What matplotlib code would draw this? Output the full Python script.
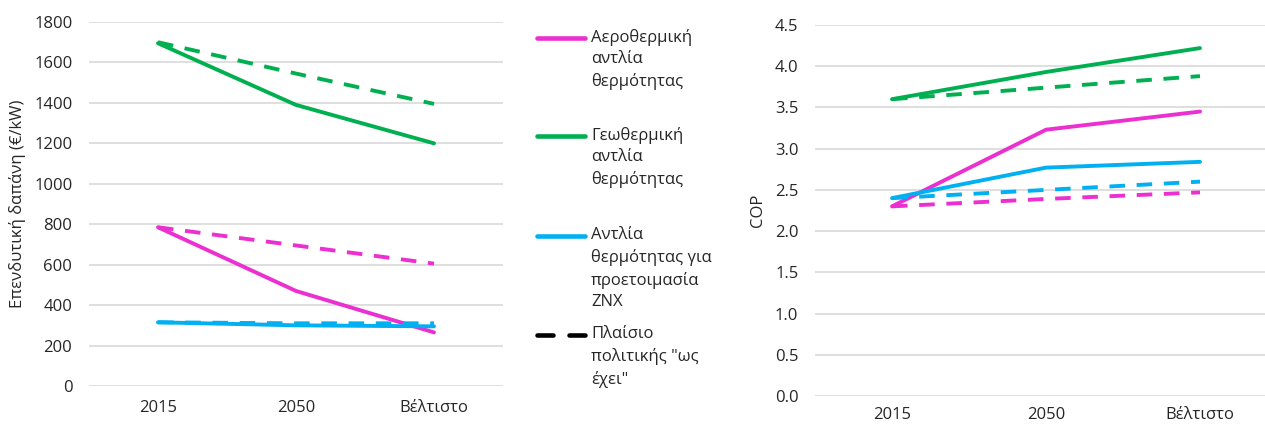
import matplotlib
matplotlib.use("Agg")
import matplotlib.pyplot as plt
from matplotlib.lines import Line2D

plt.rcParams['font.family'] = ['Open Sans', 'DejaVu Sans']

categories = ['2015', '2050', 'Βέλτιστο']

# Investment cost (€/kW)
cost_air = [785, 470, 265]
cost_air_asis = [785, 695, 605]
cost_geo = [1695, 1390, 1200]
cost_geo_asis = [1700, 1545, 1395]
cost_dhw = [315, 300, 295]
cost_dhw_asis = [315, 310, 310]

# COP
cop_air = [2.30, 3.23, 3.45]
cop_air_asis = [2.30, 2.39, 2.47]
cop_geo = [3.60, 3.93, 4.22]
cop_geo_asis = [3.60, 3.74, 3.88]
cop_dhw = [2.40, 2.77, 2.84]
cop_dhw_asis = [2.40, 2.50, 2.60]

legend_labels = ['Αεροθερμική\nαντλία\nθερμότητας',
                 'Γεωθερμική\nαντλία\nθερμότητας',
                 'Αντλία\nθερμότητας για\nπροετοιμασία\nΖΝΧ',
                 'Πλαίσιο\nπολιτικής "ως\nέχει"']

MAG = '#EC2FD0'
GRN = '#00B050'
BLU = '#00B0F0'
GRID = '#D9D9D9'
TXT = '#262626'
LW = 2.8
DASH = (4, 3)
FS = 12

W, H = 1265, 426
fig = plt.figure(figsize=(W / 100, H / 100), dpi=100)

def px_axes(l, r, b, t):
    return fig.add_axes([l / W, (H - b) / H, (r - l) / W, (b - t) / H])

ax1 = px_axes(89, 503, 386, 22)
ax2 = px_axes(815, 1265, 396, 25)

x = list(range(len(categories)))

def style(ax, ylim, ticks, fmt, xmax, xpad):
    ax.set_xlim(-0.5, xmax)
    ax.set_ylim(*ylim)
    ax.set_yticks(ticks)
    ax.set_yticklabels([fmt(t) for t in ticks])
    ax.set_xticks(x)
    ax.set_xticklabels(categories)
    for s in ax.spines.values():
        s.set_visible(False)
    ax.tick_params(length=0, labelsize=FS, colors=TXT)
    ax.tick_params(axis='x', pad=xpad)
    ax.tick_params(axis='y', pad=12)
    ax.grid(axis='y', color=GRID, lw=1.2)
    ax.set_axisbelow(True)

def plot_pair(ax, solid, dashed, color):
    ax.plot(x, solid, color=color, lw=LW, solid_capstyle='round', clip_on=False)
    ax.plot(x, dashed, color=color, lw=LW, dashes=DASH, clip_on=False)

plot_pair(ax1, cost_air, cost_air_asis, MAG)
plot_pair(ax1, cost_geo, cost_geo_asis, GRN)
plot_pair(ax1, cost_dhw, cost_dhw_asis, BLU)
style(ax1, (0, 1800), list(range(0, 1801, 200)), lambda t: f'{t:d}', 2.5, 10)
ax1.set_ylabel('Επενδυτική δαπάνη (€/kW)', fontsize=FS, color=TXT, labelpad=6)

plot_pair(ax2, cop_air, cop_air_asis, MAG)
plot_pair(ax2, cop_geo, cop_geo_asis, GRN)
plot_pair(ax2, cop_dhw, cop_dhw_asis, BLU)
style(ax2, (0, 4.5), [i * 0.5 for i in range(10)], lambda t: f'{t:.1f}', (1265 - 815) / 154 - 0.5, 8)
ax2.set_ylabel('COP', fontsize=FS, color=TXT, labelpad=6)

# Legend (manual, in figure pixel coordinates)
first_line_y = [38, 136, 236, 335]
colors = [MAG, GRN, BLU, 'black']
for lab, yy, c in zip(legend_labels, first_line_y, colors):
    yf = (H - yy) / H
    if c == 'black':
        fig.add_artist(Line2D([537 / W, 553 / W], [yf, yf], color=c, lw=LW + 0.5, solid_capstyle='round'))
        fig.add_artist(Line2D([569 / W, 585 / W], [yf, yf], color=c, lw=LW + 0.5, solid_capstyle='round'))
    else:
        fig.add_artist(Line2D([537 / W, 585 / W], [yf, yf], color=c, lw=LW + 0.5, solid_capstyle='round'))
    fig.text(591 / W, (H - yy + 9) / H, lab, fontsize=FS, color=TXT,
             va='top', ha='left', linespacing=1.45)

fig.savefig('out.png', dpi=100)
